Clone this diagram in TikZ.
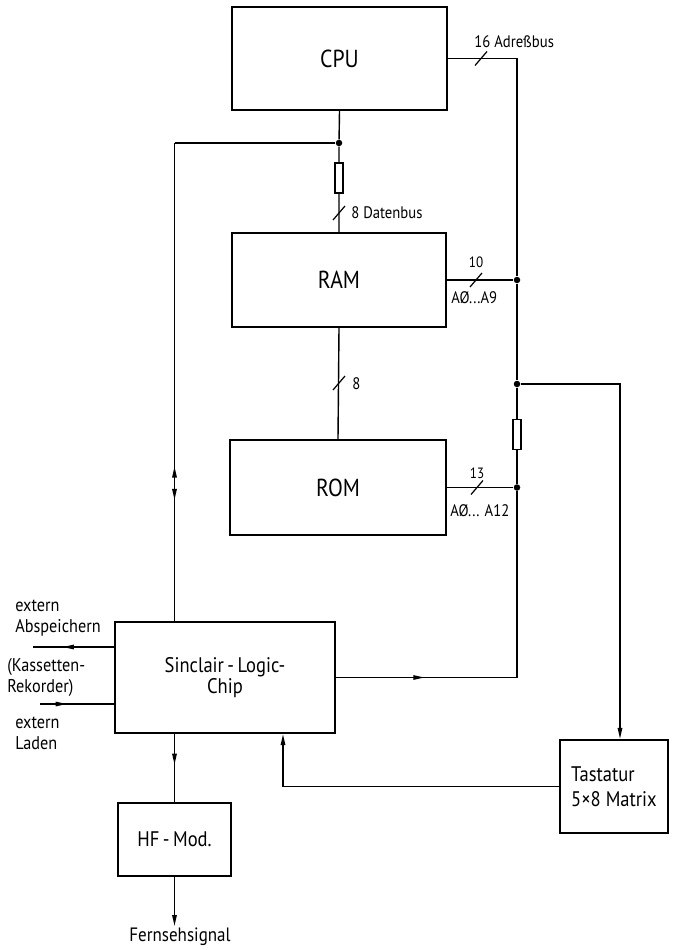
\documentclass[tikz,border=0pt]{standalone}
\usepackage{fontspec}
\setmainfont{PT Sans}[FakeStretch=0.88]
\usepackage{tikz}
\usetikzlibrary{arrows.meta,positioning,decorations.markings}

\begin{document}
\begin{tikzpicture}[x=0.02cm,y=-0.02cm,
          >={Triangle[length=2.2mm,width=0.9mm]},
          blk/.style={draw,line width=1.3pt,inner sep=0pt},
          wire/.style={line width=0.8pt},
          resi/.style={draw,line width=0.7pt,minimum width=0.16cm,
                       minimum height=0.6cm,inner sep=0pt},
          jdot/.style={circle,fill,inner sep=0pt,minimum size=0.13cm},
          tick/.style={line width=0.7pt},
          buslbl/.style={font=\fontsize{9.5}{11}\selectfont,inner sep=0pt},
          sidelbl/.style={font=\fontsize{10.5}{12}\selectfont,inner sep=0pt,
                          align=left,anchor=west},
          midarr/.style={postaction={decorate,decoration={markings,
                         mark=at position #1 with {\arrow{>}}}}},
          midrev/.style={postaction={decorate,decoration={markings,
                         mark=at position #1 with {\arrow{<}}}}},
        ]
        \useasboundingbox (0,0) rectangle (675,950);

        % BLOCKS
        \node[blk,minimum width=4.3cm,minimum height=2.06cm,font=\fontsize{14}{16}\selectfont]
             (cpu) at (339.5,58.5){CPU};
        \node[blk,minimum width=4.28cm,minimum height=1.88cm,font=\fontsize{14}{16}\selectfont]
             (ram) at (339,280){RAM};
        \node[blk,minimum width=4.32cm,minimum height=1.9cm,font=\fontsize{14}{16}\selectfont]
             (rom) at (338,487.5){ROM};
        \node[blk,minimum width=4.4cm,minimum height=2.22cm,align=center,
              font=\fontsize{12}{12}\selectfont]
             (slc) at (225,677.5){Sinclair\,-\,Logic-\\Chip};
        \node[blk,minimum width=2.26cm,minimum height=1.46cm,font=\fontsize{12}{14}\selectfont]
             (hf) at (174.5,839.5){HF\,-\,Mod.};
        \node[blk,minimum width=2.16cm,minimum height=1.86cm,align=left,
              font=\fontsize{12}{14}\selectfont]
             (tast) at (614,786.5){Tastatur\\5×8 Matrix};

        % JUNCTIONS AND RESISTORS
        \node[jdot](j1)   at (339,143){};
        \node[jdot](jram) at (517,280){};
        \node[jdot](jkey) at (517,384){};
        \node[jdot](jrom) at (517,487.5){};
        \node[resi](r1)   at (339,178){};
        \node[resi](r2)   at (517,434.5){};
        \coordinate (abtop) at (517,58.5);
        \coordinate (abbot) at (517,677.5);
        \coordinate (dl)  at (174.5,143);
        \coordinate (kc)  at (620,384);
        \coordinate (kin) at (283,786.5);
        \coordinate (sv)  at (33,647);
        \coordinate (ld)  at (40,704);

        % DATA BUS
        \draw[wire](cpu.south)--(j1)(j1)--(r1.north)(r1.south)--(ram.north);
        \draw[wire](ram.south)--(rom.north);
        \draw[wire](j1)--(dl);
        \draw[wire,midrev=0.70,midarr=0.747](dl)--(dl |- slc.north);
        \draw[tick](333,220)--++(12,-14);
        \draw[tick](333,390)--++(12,-14);
        \node[buslbl,anchor=west](dbl) at (351,213){8 Datenbus};
        \node[buslbl,anchor=west](d8)  at (352,384){8};

        % ADDRESS BUS
        \draw[wire](cpu.east)--(abtop)--(jram)(jram)--(jkey)(jkey)--(r2.north)(r2.south)--(jrom);
        \draw[wire](ram.east)--(jram);
        \draw[wire](rom.east)--(jrom);
        \draw[wire,midarr=0.24](slc.east)--(abbot)--(jrom);
        \draw[tick](475,65.5)--++(12,-14);
        \draw[tick](470,287)--++(12,-14);
        \draw[tick](471,494.5)--++(12,-14);
        \node[buslbl,anchor=west](abl) at (474,42){16 Adreßbus};
        \node[buslbl,font=\fontsize{8.5}{10}\selectfont](n10) at (476,262){10};
        \node[buslbl,anchor=west](a9)  at (451,298){AØ...A9};
        \node[buslbl,font=\fontsize{8.5}{10}\selectfont](n13) at (477,473){13};
        \node[buslbl,anchor=west](a12) at (450,511){AØ... A12};

        % KEYBOARD
        \draw[wire,->](jkey)--(kc)--(kc |- tast.north);
        \draw[wire,->](tast.west)--(kin)--(kin |- slc.south);

        % CASSETTE
        \draw[wire,midarr=0.63](sv -| slc.west)--(sv);
        \draw[wire,midarr=0.36](ld)--(ld -| slc.west);
        \node[sidelbl](ext1) at (15,618){extern\\Abspeichern};
        \node[sidelbl](kas)  at (7,677){(Kassetten-\\Rekorder)};
        \node[sidelbl](ext2) at (15,733){extern\\Laden};

        % TV OUTPUT
        \draw[wire,midarr=0.45](hf.north |- slc.south)--(hf.north);
        \node[inner sep=1pt,font=\fontsize{11}{13}\selectfont](fs) at (180,937){Fernsehsignal};
        \draw[wire,->](hf.south)--(hf.south |- fs.north);
      \end{tikzpicture}
\end{document}
